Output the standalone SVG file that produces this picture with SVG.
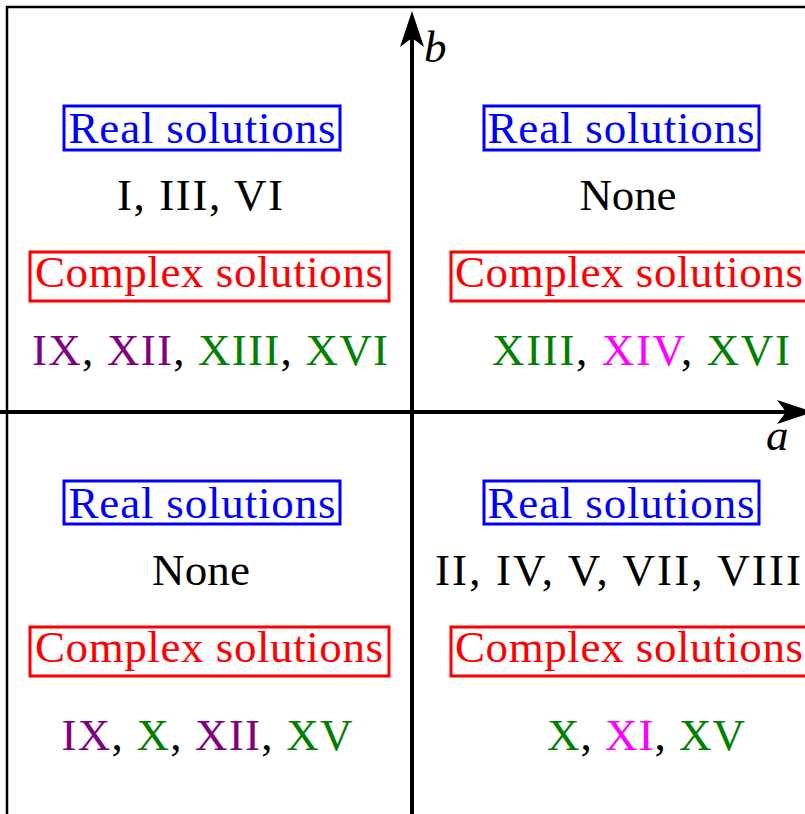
<svg xmlns="http://www.w3.org/2000/svg" width="805" height="814" viewBox="0 0 805 814">
  <style>
    text { font-family: "Liberation Serif", "Times New Roman", serif; font-size: 45px; text-anchor: middle; }
    .real { fill: #0000ff; }
    .cplx { fill: #ff0000; }
    .rbox { fill: none; stroke: #0000ff; stroke-width: 3; }
    .cbox { fill: none; stroke: #ff0000; stroke-width: 3; }
    .blk { fill: #000000; }
    .pu { fill: #800080; }
    .gr { fill: #008000; }
    .mg { fill: #ff00ff; }
    .axis { stroke: #000000; stroke-width: 4; fill: none; }
    .frame { stroke: #000000; stroke-width: 2.5; fill: none; }
    .lbl { font-style: italic; text-anchor: start; }
  </style>
  <defs>
    <marker id="arrow" viewBox="-10 -13 38 26" markerWidth="38" markerHeight="26" refX="0" refY="0" orient="auto" markerUnits="userSpaceOnUse">
      <path d="M27,0 L-9,-12 L0,0 L-9,12 Z" fill="#000000"/>
    </marker>
  </defs>
  <rect width="805" height="814" fill="#ffffff"/>

  <g id="frame">
    <path class="frame" d="M7,814 L7,7 L805,7"/>
  </g>

  <g id="connectors">
    <line class="axis" x1="412" y1="814" x2="412" y2="38" marker-end="url(#arrow)"/>
    <line class="axis" x1="0" y1="412" x2="786" y2="412" marker-end="url(#arrow)"/>
  </g>

  <g id="axis-labels">
    <text class="lbl" x="424" y="62">b</text>
    <text class="lbl" x="766" y="450">a</text>
  </g>

  <g id="q-top-left">
    <rect class="rbox" x="64" y="106" width="276" height="44"/>
    <text class="real" x="202" y="143" textLength="267">Real solutions</text>
    <text class="blk" x="200" y="210" textLength="166">I, III, VI</text>
    <rect class="cbox" x="30" y="252" width="359" height="49"/>
    <text class="cplx" x="209" y="287" textLength="348">Complex solutions</text>
    <text x="210" y="365" textLength="356"><tspan class="pu">IX</tspan><tspan class="blk">, </tspan><tspan class="pu">XII</tspan><tspan class="blk">, </tspan><tspan class="gr">XIII</tspan><tspan class="blk">, </tspan><tspan class="gr">XVI</tspan></text>
  </g>

  <g id="q-top-right">
    <rect class="rbox" x="484" y="106" width="275" height="44"/>
    <text class="real" x="621" y="143" textLength="267">Real solutions</text>
    <text class="blk" x="628" y="210" textLength="97">None</text>
    <rect class="cbox" x="451" y="252" width="360" height="49"/>
    <text class="cplx" x="629" y="287" textLength="348">Complex solutions</text>
    <text x="641" y="365" textLength="298"><tspan class="gr">XIII</tspan><tspan class="blk">, </tspan><tspan class="mg">XIV</tspan><tspan class="blk">, </tspan><tspan class="gr">XVI</tspan></text>
  </g>

  <g id="q-bottom-left">
    <rect class="rbox" x="64" y="481" width="276" height="43"/>
    <text class="real" x="202" y="518" textLength="267">Real solutions</text>
    <text class="blk" x="201" y="585" textLength="98">None</text>
    <rect class="cbox" x="30" y="627" width="359" height="49"/>
    <text class="cplx" x="209" y="662" textLength="348">Complex solutions</text>
    <text x="207" y="750" textLength="291"><tspan class="pu">IX</tspan><tspan class="blk">, </tspan><tspan class="gr">X</tspan><tspan class="blk">, </tspan><tspan class="pu">XII</tspan><tspan class="blk">, </tspan><tspan class="gr">XV</tspan></text>
  </g>

  <g id="q-bottom-right">
    <rect class="rbox" x="484" y="481" width="275" height="43"/>
    <text class="real" x="621" y="518" textLength="267">Real solutions</text>
    <text class="blk" x="618" y="585" textLength="366">II, IV, V, VII, VIII</text>
    <rect class="cbox" x="451" y="627" width="360" height="49"/>
    <text class="cplx" x="629" y="662" textLength="348">Complex solutions</text>
    <text x="646" y="750" textLength="198"><tspan class="gr">X</tspan><tspan class="blk">, </tspan><tspan class="mg">XI</tspan><tspan class="blk">, </tspan><tspan class="gr">XV</tspan></text>
  </g>
</svg>
